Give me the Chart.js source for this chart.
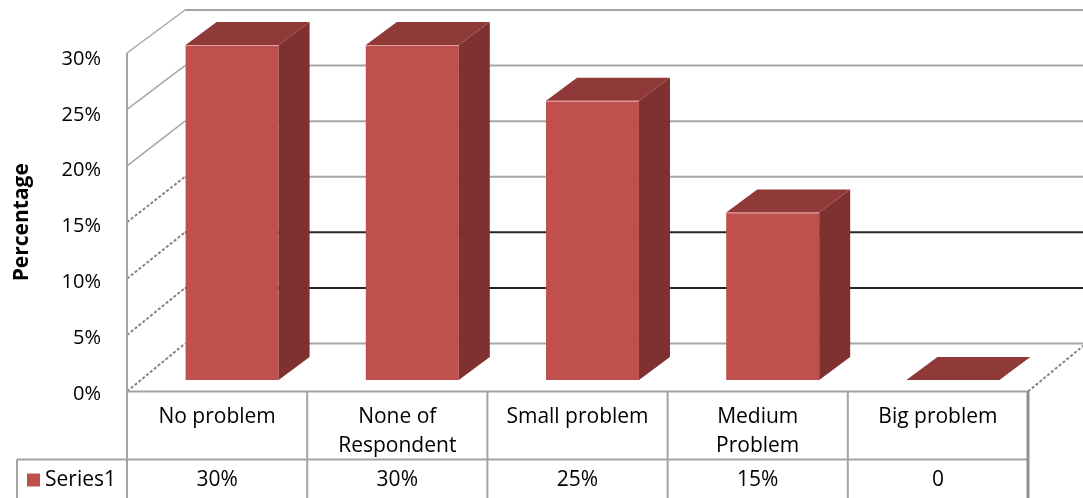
<!DOCTYPE html>
<html>
<head>
<meta charset="utf-8">
<title>Percentage by problem level</title>
<script src="https://cdn.jsdelivr.net/npm/chart.js@4.4.1/dist/chart.umd.min.js"></script>
<style>
  html, body { margin:0; padding:0; background:#fff; }
  #wrap { position:relative; width:1083px; height:498px; }
</style>
</head>
<body>
<div id="wrap"><canvas id="chart"></canvas></div>
<script>
// --- data ---
const categories = ['No problem', ['None of', 'Respondent'], 'Small problem', ['Medium', 'Problem'], 'Big problem'];
const seriesName = 'Series1';
const values = [0.30, 0.30, 0.25, 0.15, 0];
const yTicks = [0, 0.05, 0.10, 0.15, 0.20, 0.25, 0.30];

// --- look ---
const FONT = '"Open Sans", "Noto Sans", sans-serif';
const RED = '#C0504D', RED_SIDE = '#7E3130', RED_TOP = '#8F3A39';
const WALL_LINE = '#a6a6a6', DARK_LINE = '#2e2222', TABLE_LINE = '#a3a3a3';

// depth planes, relative to the bar front plane (the plane the scales map to)
const FRONT = { dx: -15, dy0: 11.5, k: 1.0104 };
const BACK  = { dx: 43,  dy0: -36.5, k: 0.9955 };
const BAR_DEPTH = { dx: 31, dy: -23 };

const fmt = v => v === 0 ? '0' : Math.round(v * 100) + '%';

function planeY(ys, v, p) {
  return ys.bottom + p.dy0 + (ys.getPixelForValue(v) - ys.bottom) * p.k;
}

function line(ctx, x1, y1, x2, y2, color, w, dash) {
  ctx.save();
  ctx.strokeStyle = color;
  ctx.lineWidth = w;
  ctx.setLineDash(dash || []);
  ctx.beginPath();
  ctx.moveTo(x1, y1);
  ctx.lineTo(x2, y2);
  ctx.stroke();
  ctx.restore();
}

function poly(ctx, pts, fill) {
  ctx.beginPath();
  ctx.moveTo(pts[0][0], pts[0][1]);
  for (let i = 1; i < pts.length; i++) ctx.lineTo(pts[i][0], pts[i][1]);
  ctx.closePath();
  ctx.fillStyle = fill;
  ctx.fill();
}

// walls, floor and gridlines behind the bars
const walls = {
  id: 'walls',
  beforeDatasetsDraw(chart) {
    const ctx = chart.ctx, ys = chart.scales.y, xs = chart.scales.x;
    const xf = xs.left + FRONT.dx, xb = xs.left + BACK.dx;
    const xr = xs.right + BACK.dx, xrf = xs.right + FRONT.dx;
    yTicks.forEach(v => {
      const yf = planeY(ys, v, FRONT), yb = planeY(ys, v, BACK);
      const dark = (v > 0.04 && v < 0.11);
      line(ctx, xb, yb, xr, yb, dark ? DARK_LINE : WALL_LINE, 2);
      const lower = v < 0.16;
      line(ctx, xf, yf, xb, yb, lower ? '#8c8080' : WALL_LINE, lower ? 2 : 1.5, lower ? [3, 2] : null);
    });
    // front edge of the side wall
    line(ctx, xf, planeY(ys, yTicks[yTicks.length - 1], FRONT), xf, chart.height, TABLE_LINE, 2);
    // right edge of the floor
    line(ctx, xrf, planeY(ys, 0, FRONT), xr, planeY(ys, 0, BACK), '#8c8080', 2, [3, 2]);
  }
};

// side and top faces of each column
const columns3d = {
  id: 'columns3d',
  afterDatasetsDraw(chart) {
    const ctx = chart.ctx;
    const { dx, dy } = BAR_DEPTH;
    chart.getDatasetMeta(0).data.forEach(bar => {
      const { x, y, base, width } = bar.getProps(['x', 'y', 'base', 'width'], true);
      const l = x - width / 2, r = x + width / 2;
      ctx.save();
      if (base - y > 0.5) {
        poly(ctx, [[r, y], [r + dx, y + dy], [r + dx, base + dy], [r, base]], RED_SIDE);
      }
      poly(ctx, [[l, y], [l + dx, y + dy], [r + dx, y + dy], [r, y]], RED_TOP);
      if (base - y > 0.5) {
        line(ctx, l, y + 0.5, r, y + 0.5, '#e2a3a1', 1);
      }
      ctx.restore();
    });
  }
};

// axis title and data table under the plot
const dataTable = {
  id: 'dataTable',
  afterDraw(chart) {
    const ctx = chart.ctx, ys = chart.scales.y, xs = chart.scales.x;
    const n = categories.length;
    const colW = xs.width / n;
    const top = planeY(ys, 0, FRONT);
    const rowSplit = top + 68;
    const left = xs.left + FRONT.dx;
    const legendLeft = 17;

    ctx.save();
    line(ctx, left, top, left + colW * n, top, TABLE_LINE, 2);
    line(ctx, legendLeft, rowSplit, left + colW * n, rowSplit, TABLE_LINE, 2);
    line(ctx, legendLeft, rowSplit, legendLeft, chart.height, TABLE_LINE, 2);
    for (let i = 0; i <= n; i++) {
      const xc = left + colW * i;
      const w = i === n ? 3 : 2;
      line(ctx, xc, top, xc, chart.height, i === n ? '#8f8f8f' : TABLE_LINE, w);
    }

    ctx.fillStyle = '#000';
    ctx.font = '21px ' + FONT;
    ctx.textAlign = 'center';
    ctx.textBaseline = 'middle';
    categories.forEach((c, i) => {
      const cx = xs.getPixelForValue(i) + FRONT.dx;
      const lines = Array.isArray(c) ? c : [c];
      lines.forEach((t, j) => ctx.fillText(t, cx, top + 26 + j * 29));
      ctx.fillText(fmt(values[i]), cx, rowSplit + 21);
    });

    // legend key
    ctx.fillStyle = RED;
    ctx.fillRect(27, rowSplit + 14, 13, 13);
    ctx.fillStyle = '#000';
    ctx.textAlign = 'left';
    ctx.fillText(seriesName, 45, rowSplit + 21);

    // y axis title
    ctx.translate(22, (planeY(ys, 0, FRONT) + planeY(ys, 0.3, FRONT)) / 2);
    ctx.rotate(-Math.PI / 2);
    ctx.font = 'bold 21px ' + FONT;
    ctx.textAlign = 'center';
    ctx.fillText('Percentage', 0, 0);
    ctx.restore();
  }
};

new Chart(document.getElementById('chart'), {
  type: 'bar',
  data: {
    labels: categories,
    datasets: [{
      label: seriesName,
      data: values,
      backgroundColor: RED,
      borderWidth: 0,
      barPercentage: 0.516,
      categoryPercentage: 1
    }]
  },
  options: {
    responsive: true,
    maintainAspectRatio: false,
    animation: false,
    layout: { padding: { top: 45, right: 40, bottom: 118, left: 0 } },
    plugins: { legend: { display: false }, tooltip: { enabled: false } },
    scales: {
      x: { display: false },
      y: {
        min: 0,
        max: 0.3,
        afterFit: s => { s.width = 142; s.paddingTop = 0; s.paddingBottom = 0; },
        afterBuildTicks: s => { s.ticks = yTicks.map(v => ({ value: v })); },
        grid: { display: false, drawTicks: false },
        border: { display: false },
        ticks: {
          padding: 41,
          labelOffset: 14,
          color: '#000',
          font: { family: FONT, size: 20 },
          callback: v => Math.round(v * 100) + '%'
        }
      }
    }
  },
  plugins: [walls, columns3d, dataTable]
});
</script>
</body>
</html>
